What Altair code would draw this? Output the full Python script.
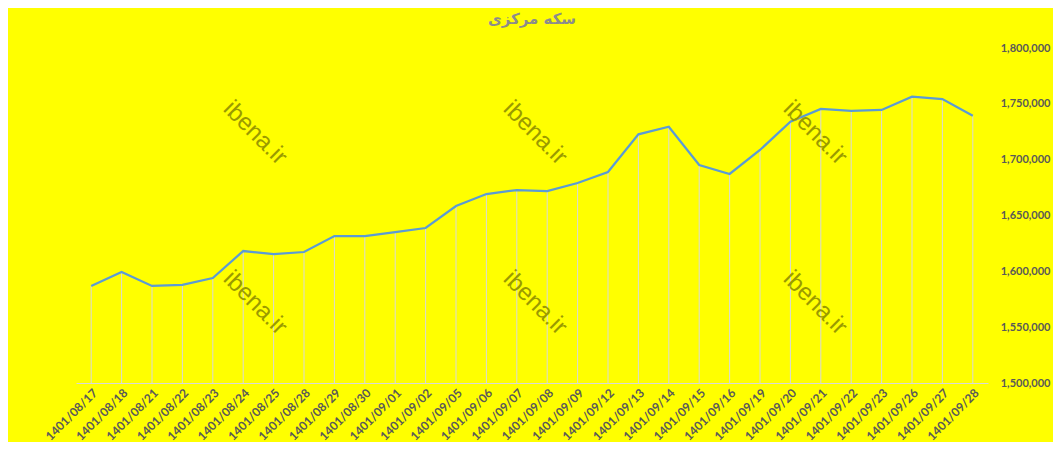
import altair as alt
import pandas as pd

dates = ["1401/08/17", "1401/08/18", "1401/08/21", "1401/08/22", "1401/08/23",
         "1401/08/24", "1401/08/25", "1401/08/28", "1401/08/29", "1401/08/30",
         "1401/09/01", "1401/09/02", "1401/09/05", "1401/09/06", "1401/09/07",
         "1401/09/08", "1401/09/09", "1401/09/12", "1401/09/13", "1401/09/14",
         "1401/09/15", "1401/09/16", "1401/09/19", "1401/09/20", "1401/09/21",
         "1401/09/22", "1401/09/23", "1401/09/26", "1401/09/27", "1401/09/28"]
prices = [1586900, 1599400, 1586900, 1587800, 1594000,
          1618200, 1615500, 1617300, 1631600, 1631600,
          1635200, 1638800, 1658500, 1669200, 1672800,
          1671900, 1679100, 1689000, 1722700, 1729500,
          1695200, 1687200, 1708700, 1734000, 1745400,
          1743600, 1744500, 1756400, 1754300, 1739400]
y_ticks = [1500000, 1550000, 1600000, 1650000, 1700000, 1750000, 1800000]
title_text = "سکه مرکزی"
watermark = "ibena.ir"

df = pd.DataFrame({"date": dates, "price": prices, "base": [y_ticks[0]] * len(dates)})

thousands_expr = ("floor(datum.value/1000000) + ',' + "
                  "pad(toString(floor(datum.value/1000)%1000), 3, '0', 'left') + ',' + "
                  "pad(toString(datum.value%1000), 3, '0', 'left')")

x_enc = alt.X("date:N", sort=None,
              scale=alt.Scale(type="point", padding=0.5),
              axis=alt.Axis(title=None, labelAngle=-45, labelFont="Lato", labelFontSize=12,
                            labelFontWeight="bold", labelColor="#595959", ticks=False,
                            domainColor="#d9d9d9", labelPadding=4, grid=False))
y_enc = alt.Y("price:Q",
              scale=alt.Scale(domain=[y_ticks[0], y_ticks[-1]], nice=False, zero=False),
              axis=alt.Axis(title=None, orient="right", values=y_ticks,
                            labelExpr=thousands_expr,
                            domain=False, ticks=False, grid=False, labelAlign="right",
                            labelPadding=62, labelFont="Lato", labelFontSize=11,
                            labelFontWeight="bold", labelColor="#595959"))

base = alt.Chart(df)

drops = base.mark_rule(color="#d9d9d9", strokeWidth=1).encode(
    x=x_enc,
    y=y_enc,
    y2="base:Q",
)

line = base.mark_line(color="#5b9bd5", strokeWidth=2.25).encode(
    x=x_enc,
    y=y_enc,
)

wm_layers = []
for wx in [179, 459, 739]:
    for wy in [85, 255]:
        wm_layers.append(
            alt.Chart(pd.DataFrame({"t": [watermark]})).mark_text(
                angle=45, fontSize=24, font="Liberation Sans", color="#9a9a00",
                align="center", baseline="middle"
            ).encode(text="t:N", x=alt.value(wx), y=alt.value(wy))
        )

chart = alt.layer(drops, line, *wm_layers).properties(
    width=912, height=335,
    title=alt.TitleParams(title_text, font="DejaVu Sans", fontSize=15, fontWeight="bold",
                          color="#8c8c8c", anchor="middle", offset=15),
    autosize=alt.AutoSizeParams(type="none"),
    padding={"left": 68, "top": 40, "right": 65, "bottom": 59},
    background="#ffff00",
).configure_view(stroke=None)

chart.save("out.html", embed_options={"renderer": "svg", "actions": False})
